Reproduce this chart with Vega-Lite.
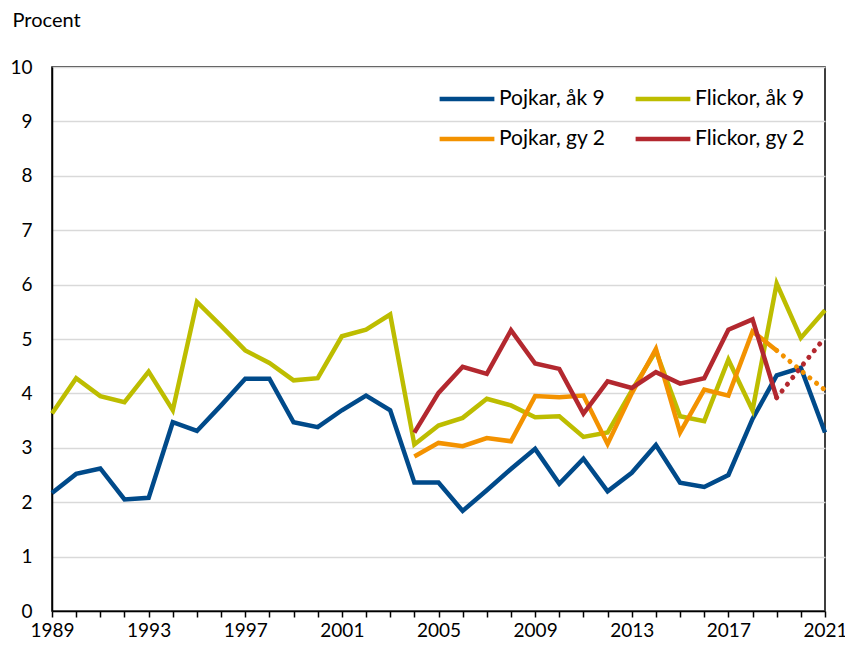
{
  "$schema": "https://vega.github.io/schema/vega-lite/v6.json",
  "autosize": "none",
  "width": 773,
  "height": 544,
  "padding": {"left": 52, "top": 67, "right": 20, "bottom": 39},
  "background": "white",
  "config": {
    "font": "Lato",
    "view": {"stroke": "black", "strokeWidth": 1.5},
    "axis": {"labelFont": "Lato", "titleFont": "Lato", "labelColor": "black", "titleColor": "black"}
  },
  "data": {
    "values": [
      {"year": 1989, "series": "Pojkar, åk 9", "value": 2.17},
      {"year": 1990, "series": "Pojkar, åk 9", "value": 2.52},
      {"year": 1991, "series": "Pojkar, åk 9", "value": 2.62},
      {"year": 1992, "series": "Pojkar, åk 9", "value": 2.05},
      {"year": 1993, "series": "Pojkar, åk 9", "value": 2.08},
      {"year": 1994, "series": "Pojkar, åk 9", "value": 3.47},
      {"year": 1995, "series": "Pojkar, åk 9", "value": 3.31},
      {"year": 1996, "series": "Pojkar, åk 9", "value": 3.78},
      {"year": 1997, "series": "Pojkar, åk 9", "value": 4.27},
      {"year": 1998, "series": "Pojkar, åk 9", "value": 4.27},
      {"year": 1999, "series": "Pojkar, åk 9", "value": 3.47},
      {"year": 2000, "series": "Pojkar, åk 9", "value": 3.38},
      {"year": 2001, "series": "Pojkar, åk 9", "value": 3.69},
      {"year": 2002, "series": "Pojkar, åk 9", "value": 3.96},
      {"year": 2003, "series": "Pojkar, åk 9", "value": 3.69},
      {"year": 2004, "series": "Pojkar, åk 9", "value": 2.36},
      {"year": 2005, "series": "Pojkar, åk 9", "value": 2.36},
      {"year": 2006, "series": "Pojkar, åk 9", "value": 1.84},
      {"year": 2007, "series": "Pojkar, åk 9", "value": 2.22},
      {"year": 2008, "series": "Pojkar, åk 9", "value": 2.61},
      {"year": 2009, "series": "Pojkar, åk 9", "value": 2.98},
      {"year": 2010, "series": "Pojkar, åk 9", "value": 2.34},
      {"year": 2011, "series": "Pojkar, åk 9", "value": 2.8},
      {"year": 2012, "series": "Pojkar, åk 9", "value": 2.2},
      {"year": 2013, "series": "Pojkar, åk 9", "value": 2.54},
      {"year": 2014, "series": "Pojkar, åk 9", "value": 3.05},
      {"year": 2015, "series": "Pojkar, åk 9", "value": 2.36},
      {"year": 2016, "series": "Pojkar, åk 9", "value": 2.28},
      {"year": 2017, "series": "Pojkar, åk 9", "value": 2.5},
      {"year": 2018, "series": "Pojkar, åk 9", "value": 3.53},
      {"year": 2019, "series": "Pojkar, åk 9", "value": 4.33},
      {"year": 2020, "series": "Pojkar, åk 9", "value": 4.47},
      {"year": 2021, "series": "Pojkar, åk 9", "value": 3.28},
      {"year": 1989, "series": "Flickor, åk 9", "value": 3.63},
      {"year": 1990, "series": "Flickor, åk 9", "value": 4.28},
      {"year": 1991, "series": "Flickor, åk 9", "value": 3.95},
      {"year": 1992, "series": "Flickor, åk 9", "value": 3.84},
      {"year": 1993, "series": "Flickor, åk 9", "value": 4.4},
      {"year": 1994, "series": "Flickor, åk 9", "value": 3.69},
      {"year": 1995, "series": "Flickor, åk 9", "value": 5.68},
      {"year": 1996, "series": "Flickor, åk 9", "value": 5.24},
      {"year": 1997, "series": "Flickor, åk 9", "value": 4.79},
      {"year": 1998, "series": "Flickor, åk 9", "value": 4.56},
      {"year": 1999, "series": "Flickor, åk 9", "value": 4.24},
      {"year": 2000, "series": "Flickor, åk 9", "value": 4.28},
      {"year": 2001, "series": "Flickor, åk 9", "value": 5.05},
      {"year": 2002, "series": "Flickor, åk 9", "value": 5.17},
      {"year": 2003, "series": "Flickor, åk 9", "value": 5.45},
      {"year": 2004, "series": "Flickor, åk 9", "value": 3.06},
      {"year": 2005, "series": "Flickor, åk 9", "value": 3.41},
      {"year": 2006, "series": "Flickor, åk 9", "value": 3.55},
      {"year": 2007, "series": "Flickor, åk 9", "value": 3.9},
      {"year": 2008, "series": "Flickor, åk 9", "value": 3.78},
      {"year": 2009, "series": "Flickor, åk 9", "value": 3.56},
      {"year": 2010, "series": "Flickor, åk 9", "value": 3.58},
      {"year": 2011, "series": "Flickor, åk 9", "value": 3.2},
      {"year": 2012, "series": "Flickor, åk 9", "value": 3.28},
      {"year": 2013, "series": "Flickor, åk 9", "value": 4.05},
      {"year": 2014, "series": "Flickor, åk 9", "value": 4.78},
      {"year": 2015, "series": "Flickor, åk 9", "value": 3.58},
      {"year": 2016, "series": "Flickor, åk 9", "value": 3.49},
      {"year": 2017, "series": "Flickor, åk 9", "value": 4.62},
      {"year": 2018, "series": "Flickor, åk 9", "value": 3.69},
      {"year": 2019, "series": "Flickor, åk 9", "value": 6.02},
      {"year": 2020, "series": "Flickor, åk 9", "value": 5.02},
      {"year": 2021, "series": "Flickor, åk 9", "value": 5.53},
      {"year": 2004, "series": "Pojkar, gy 2", "value": 2.84},
      {"year": 2005, "series": "Pojkar, gy 2", "value": 3.09},
      {"year": 2006, "series": "Pojkar, gy 2", "value": 3.03},
      {"year": 2007, "series": "Pojkar, gy 2", "value": 3.18},
      {"year": 2008, "series": "Pojkar, gy 2", "value": 3.12},
      {"year": 2009, "series": "Pojkar, gy 2", "value": 3.95},
      {"year": 2010, "series": "Pojkar, gy 2", "value": 3.93},
      {"year": 2011, "series": "Pojkar, gy 2", "value": 3.96},
      {"year": 2012, "series": "Pojkar, gy 2", "value": 3.07},
      {"year": 2013, "series": "Pojkar, gy 2", "value": 4.0},
      {"year": 2014, "series": "Pojkar, gy 2", "value": 4.82},
      {"year": 2015, "series": "Pojkar, gy 2", "value": 3.28},
      {"year": 2016, "series": "Pojkar, gy 2", "value": 4.07},
      {"year": 2017, "series": "Pojkar, gy 2", "value": 3.96},
      {"year": 2018, "series": "Pojkar, gy 2", "value": 5.14},
      {"year": 2019, "series": "Pojkar, gy 2", "value": 4.79},
      {"year": 2020, "series": "Pojkar, gy 2", "value": 4.42},
      {"year": 2021, "series": "Pojkar, gy 2", "value": 4.06},
      {"year": 2004, "series": "Flickor, gy 2", "value": 3.28},
      {"year": 2005, "series": "Flickor, gy 2", "value": 4.01},
      {"year": 2006, "series": "Flickor, gy 2", "value": 4.49},
      {"year": 2007, "series": "Flickor, gy 2", "value": 4.36},
      {"year": 2008, "series": "Flickor, gy 2", "value": 5.16},
      {"year": 2009, "series": "Flickor, gy 2", "value": 4.55},
      {"year": 2010, "series": "Flickor, gy 2", "value": 4.45},
      {"year": 2011, "series": "Flickor, gy 2", "value": 3.63},
      {"year": 2012, "series": "Flickor, gy 2", "value": 4.22},
      {"year": 2013, "series": "Flickor, gy 2", "value": 4.1},
      {"year": 2014, "series": "Flickor, gy 2", "value": 4.39},
      {"year": 2015, "series": "Flickor, gy 2", "value": 4.18},
      {"year": 2016, "series": "Flickor, gy 2", "value": 4.28},
      {"year": 2017, "series": "Flickor, gy 2", "value": 5.17},
      {"year": 2018, "series": "Flickor, gy 2", "value": 5.36},
      {"year": 2019, "series": "Flickor, gy 2", "value": 3.92},
      {"year": 2020, "series": "Flickor, gy 2", "value": 4.48},
      {"year": 2021, "series": "Flickor, gy 2", "value": 5.03}
    ]
  },
  "encoding": {
    "x": {
      "field": "year",
      "type": "quantitative",
      "scale": {"domain": [1989, 2021], "nice": false, "zero": false},
      "axis": {
        "title": null,
        "values": [1989,1990,1991,1992,1993,1994,1995,1996,1997,1998,1999,2000,2001,2002,2003,2004,2005,2006,2007,2008,2009,2010,2011,2012,2013,2014,2015,2016,2017,2018,2019,2020,2021],
        "labelExpr": "(datum.value - 1989) % 4 == 0 ? datum.value : ''",
        "format": "d",
        "grid": false,
        "domainColor": "black",
        "domainWidth": 1.5,
        "tickColor": "black",
        "tickWidth": 1.5,
        "tickSize": 6,
        "labelFontSize": 19,
        "labelPadding": 4,
        "labelFlush": false,
        "labelOverlap": false
      }
    },
    "y": {
      "field": "value",
      "type": "quantitative",
      "scale": {"domain": [0, 10], "nice": false},
      "axis": {
        "title": "Procent",
        "titleAngle": 0,
        "titleAlign": "left",
        "titleBaseline": "middle",
        "titleX": -40,
        "titleY": -47,
        "titleFontSize": 20,
        "titleFontWeight": "normal",
        "values": [0,1,2,3,4,5,6,7,8,9,10],
        "ticks": false,
        "labelPadding": 20,
        "labelFontSize": 19,
        "domainColor": "black",
        "domainWidth": 1.5,
        "gridColor": "#d9d9d9",
        "gridWidth": 1.5
      }
    },
    "color": {
      "field": "series",
      "type": "nominal",
      "scale": {
        "domain": ["Pojkar, åk 9", "Flickor, åk 9", "Pojkar, gy 2", "Flickor, gy 2"],
        "range": ["#004a8a", "#bdbd00", "#f39200", "#b3282f"]
      },
      "legend": {
        "title": null,
        "orient": "none",
        "legendX": 385,
        "legendY": 2,
        "columns": 2,
        "direction": "horizontal",
        "symbolType": "stroke",
        "symbolSize": 3000,
        "symbolStrokeWidth": 4.5,
        "labelFontSize": 21,
        "labelOffset": 2,
        "labelLimit": 300,
        "columnPadding": 20,
        "rowPadding": -7,
        "symbolOffset": 0
      }
    }
  },
  "layer": [
    {
      "transform": [{"filter": "!(indexof(datum.series, 'gy 2') >= 0 && datum.year > 2019)"}],
      "mark": {"type": "line", "strokeWidth": 4.5, "strokeJoin": "miter", "strokeCap": "butt"}
    },
    {
      "transform": [{"filter": "indexof(datum.series, 'gy 2') >= 0 && datum.year >= 2019"}],
      "mark": {"type": "line", "strokeWidth": 5, "strokeCap": "round", "strokeDash": [0.1, 8.5]}
    }
  ]
}
